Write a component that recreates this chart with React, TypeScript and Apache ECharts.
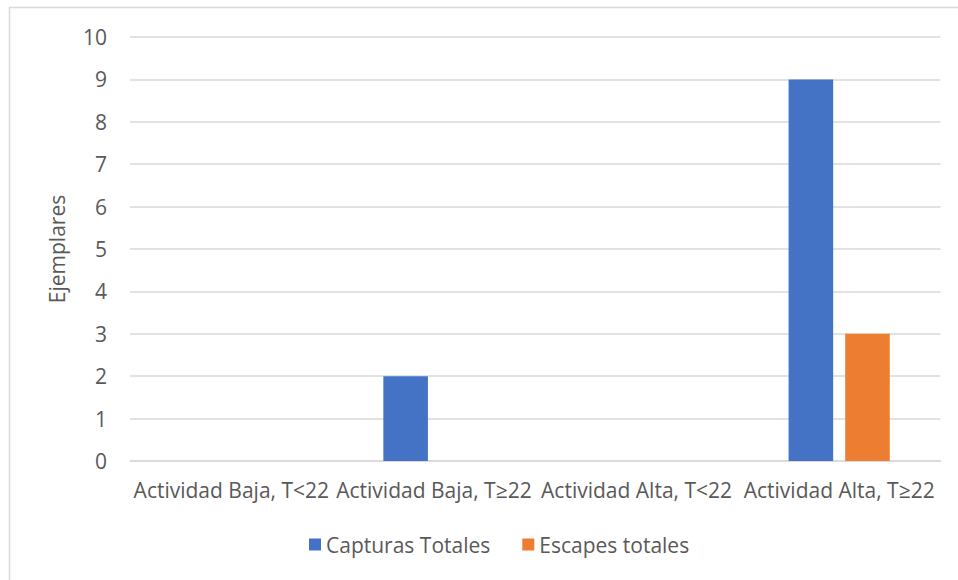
import React, { useEffect, useRef } from "react";
import * as echarts from "echarts";

const categories = [
  "Actividad Baja, T<22",
  "Actividad Baja, T≥22",
  "Actividad Alta, T<22",
  "Actividad Alta, T≥22",
];
const capturasTotales = [0, 2, 0, 9];
const escapesTotales = [0, 0, 0, 3];
const seriesNames = ["Capturas Totales", "Escapes totales"];
const yAxisName = "Ejemplares";

const FONT = "Open Sans";
const TEXT = "#595959";

export default function App() {
  const ref = useRef<HTMLDivElement>(null);
  useEffect(() => {
    if (!ref.current) return;
    const chart = echarts.init(ref.current, undefined, { renderer: "svg" });
    chart.setOption({
      animation: false,
      backgroundColor: "#ffffff",
      textStyle: { fontFamily: FONT },
      graphic: [
        {
          type: "rect",
          shape: { x: 9.5, y: 7.5, width: 1000, height: 1000 },
          style: { fill: "none", stroke: "#d9d9d9", lineWidth: 1.5 },
          silent: true,
          z: -10,
        },
      ],
      grid: { left: 130, right: 17.5, top: 37, bottom: 119, containLabel: false },
      legend: {
        bottom: 20,
        left: 304,
        itemWidth: 12,
        itemHeight: 12,
        itemGap: 32,
        icon: "rect",
        textStyle: { color: TEXT, fontSize: 21, fontFamily: FONT },
        data: seriesNames,
      },
      xAxis: {
        type: "category",
        data: categories,
        axisLine: { lineStyle: { color: "#d9d9d9", width: 1.5 } },
        axisTick: { show: false },
        axisLabel: { color: TEXT, fontSize: 21, fontFamily: FONT, margin: 18, interval: 0 },
      },
      yAxis: {
        type: "value",
        min: 0,
        max: 10,
        interval: 1,
        name: yAxisName,
        nameLocation: "middle",
        nameRotate: 90,
        nameGap: 63,
        nameTextStyle: { color: TEXT, fontSize: 21, fontFamily: FONT },
        axisLine: { show: false },
        axisTick: { show: false },
        axisLabel: { color: TEXT, fontSize: 21, fontFamily: FONT, margin: 23 },
        splitLine: { lineStyle: { color: "#d9d9d9", width: 1.5 } },
      },
      series: [
        {
          name: seriesNames[0],
          type: "bar",
          data: capturasTotales,
          barWidth: "22%",
          barGap: "27%",
          itemStyle: { color: "#4472C4" },
        },
        {
          name: seriesNames[1],
          type: "bar",
          data: escapesTotales,
          barWidth: "22%",
          barGap: "27%",
          itemStyle: { color: "#ED7D31" },
        },
      ],
    });
    return () => chart.dispose();
  }, []);
  return (
    <div
      ref={ref}
      style={{ position: "absolute", left: 0, top: 0, width: 958, height: 580 }}
    />
  );
}
